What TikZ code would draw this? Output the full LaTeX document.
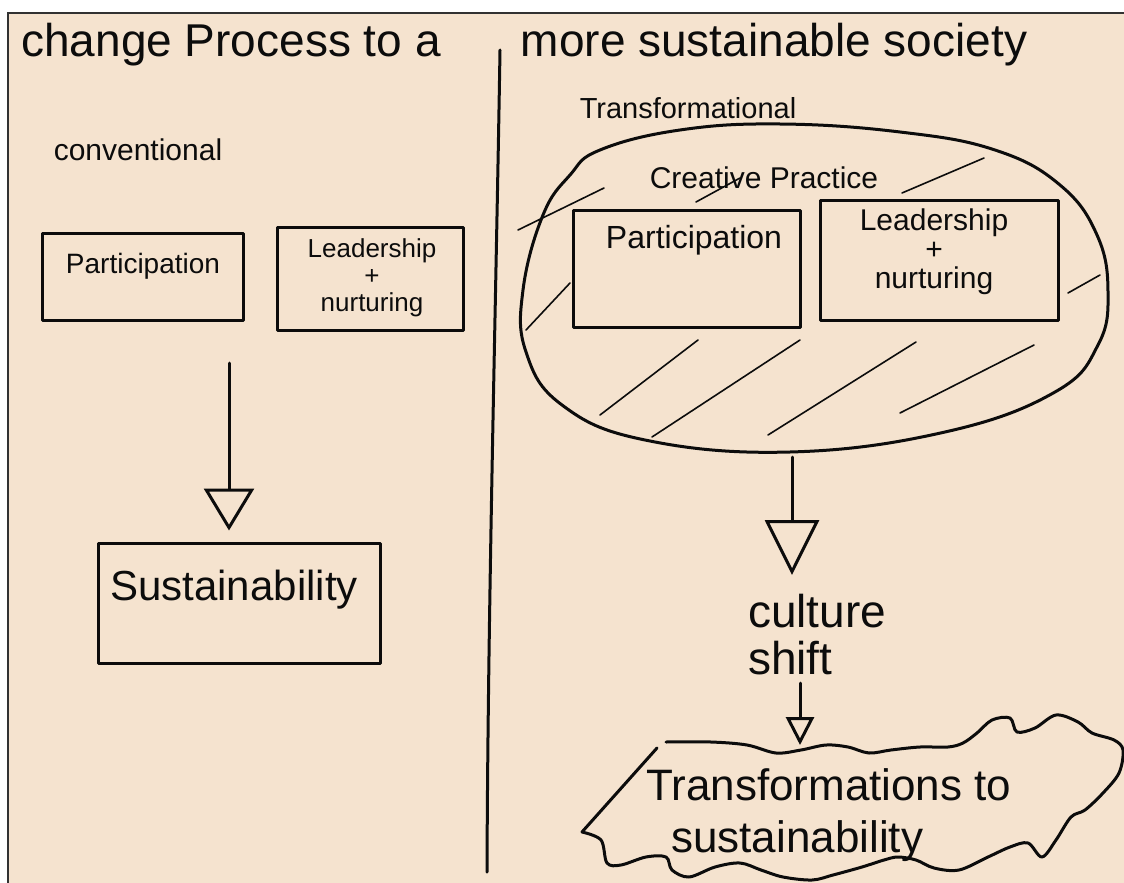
\documentclass[tikz,border=0pt]{standalone}
\usepackage{fontspec}
\setmainfont{Liberation Sans}
\usetikzlibrary{arrows.meta}
\definecolor{paper}{RGB}{245,227,207}
\definecolor{frame}{RGB}{50,50,50}
\definecolor{ink}{RGB}{12,12,12}
\tikzset{
  hand/.style={draw=ink, line width=3pt, line cap=round, line join=round},
  hatch/.style={draw=ink, line width=1.6pt, line cap=round},
  box/.style={hand, rectangle, inner sep=0pt},
  txt/.style={text=ink, inner sep=0pt},
  fs/.style={font=\fontsize{#1}{#1}\selectfont},
}
\begin{document}
\begin{tikzpicture}[x=1pt,y=-1pt]
\useasboundingbox (0,0) rectangle (1124,883);
\fill[white] (0,0) rectangle (1124,883);
\fill[paper] (8,13) rectangle (1124,883);
\draw[frame, line width=2pt] (8,883) -- (8,13) -- (1124,13);

% title
\node[txt, fs=46, anchor=base] (t1) at (231,57) {change Process to a};
\node[txt, fs=46, anchor=base] (t2) at (774,57) {more sustainable society};

% divider
\draw[hand] (500,50) .. controls (496,300) and (488,600) .. (487,872);

% left: conventional
\node[txt, fs=30] (conv) at (138,150) {conventional};
\node[box, minimum width=201pt, minimum height=87pt] (lp) at (142.5,276.5) {};
\node[txt, fs=28] (lpt) at (143,266) {Participation};
\node[box, minimum width=186pt, minimum height=103pt] (ll) at (370,278.5) {};
\node[txt, align=center, font=\fontsize{26}{27}\selectfont] (llt) at (372,278) {Leadership\\+\\nurturing};
\node[box, minimum width=282pt, minimum height=120pt] (ls) at (239,603) {};
\node[txt, fs=42] (lst) at (234,590) {Sustainability};
\coordinate (la) at (229,363);
\draw[hand, -{Triangle[open, length=42pt, width=50pt]}, shorten >=11pt] (la) -- (la |- ls.north);

% right: transformational
\node[txt, fs=29] (trn) at (688,108) {Transformational};
\draw[hand] plot[smooth cycle, tension=0.7] coordinates {
  (600,150) (680,130) (780,124) (900,132) (995,150) (1060,185) (1097,235)
  (1108,292) (1098,345) (1055,392) (945,432) (790,452) (645,440) (562,405)
  (526,352) (523,290) (543,215) (570,175)};
\node[txt, fs=30] (cpt) at (764,178) {Creative Practice};
\node[box, minimum width=227pt, minimum height=117pt] (rp) at (686.5,268.5) {};
\node[txt, fs=32] (rpt) at (694,240) {Participation};
\node[box, minimum width=238pt, minimum height=120pt] (rl) at (939,260) {};
\node[txt, align=center, font=\fontsize{30}{29}\selectfont] (rlt) at (934,252) {Leadership\\+\\nurturing};

% hatching
\draw[hatch] (518,230) -- (604,188);
\draw[hatch] (696,202) -- (740,178);
\draw[hatch] (902,193) -- (984,158);
\draw[hatch] (526,330) -- (570,283);
\draw[hatch] (1068,293) -- (1100,275);
\draw[hatch] (600,415) -- (698,340);
\draw[hatch] (652,437) -- (800,340);
\draw[hatch] (768,435) -- (916,342);
\draw[hatch] (900,413) -- (1034,345);

% culture shift
\coordinate (cpb) at (792,457);
\node[txt, align=left, font=\fontsize{46}{47}\selectfont, anchor=north west] (cs) at (748,594) {culture\\shift};
\draw[hand, -{Triangle[open, length=55pt, width=54pt]}, shorten >=19pt] (cpb) -- (cpb |- cs.north);

% transformations to sustainability
\coordinate (wt) at (800,748);
\draw[hand, -{Triangle[open, length=28pt, width=28pt]}, shorten <=8pt, shorten >=3pt] (wt |- cs.south) -- (wt);
\draw[hand] (657,748) -- (582,832);
\draw[hand] plot[smooth, tension=0.55] coordinates {
  (666,742) (711,742) (747,745) (776,753) (801,750) (826,745) (848,747)
  (869,753) (891,750) (920,747) (948,747) (963,743) (977,733) (992,720)
  (1010,718) (1017,732) (1035,728) (1056,715) (1078,722) (1092,733)
  (1114,740) (1123,750) (1119,773) (1103,793) (1085,810) (1071,817)
  (1056,840) (1042,857) (1028,843) (1010,847) (988,857) (959,870)
  (934,868) (916,860) (898,857) (884,860) (862,867) (833,875) (812,880)
  (783,877) (761,870) (740,863) (715,867) (689,877) (672,870) (666,857)
  (646,857) (621,865) (607,863) (601,840) (582,832)};
\node[txt, fs=44, anchor=base west] (tw1) at (646,800) {Transformations to};
\node[txt, fs=44, anchor=base west] (tw2) at (671,852) {sustainability};
\end{tikzpicture}
\end{document}
